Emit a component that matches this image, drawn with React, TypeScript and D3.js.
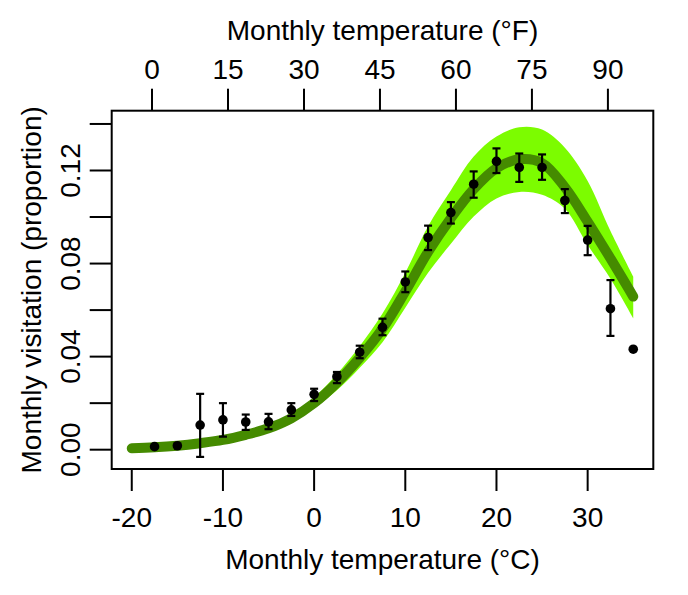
import * as d3 from 'd3';

// observed monthly visitation, binned by monthly temperature (°C)
const tempC = [-17.5, -15, -12.5, -10, -7.5, -5, -2.5, 0, 2.5, 5, 7.5, 10, 12.5, 15, 17.5, 20, 22.5, 25, 27.5, 30, 32.5, 35];
const visitation = [0.0013, 0.0017, 0.0106, 0.0128, 0.0119, 0.012, 0.0171, 0.0238, 0.0314, 0.0419, 0.0526, 0.0721, 0.0912, 0.1019, 0.1141, 0.1239, 0.1213, 0.1213, 0.1071, 0.0901, 0.0606, 0.0432];
const visitLow = [0.0013, 0.0017, -0.0031, 0.0056, 0.0085, 0.0088, 0.0145, 0.0209, 0.0286, 0.0393, 0.0492, 0.0677, 0.0858, 0.0972, 0.1083, 0.1189, 0.1151, 0.116, 0.1017, 0.0836, 0.0489, 0.0432];
const visitHigh = [0.0013, 0.0017, 0.024, 0.02, 0.0151, 0.0154, 0.02, 0.0262, 0.0334, 0.0447, 0.0563, 0.0766, 0.0963, 0.1064, 0.1196, 0.1295, 0.1273, 0.1269, 0.112, 0.0962, 0.0729, 0.0432];

// fitted curve and its confidence band
const fitTempC = [-20, -17.5, -15, -12.5, -10, -7.5, -5, -2.5, 0, 2.5, 5, 7.5, 10, 12.5, 15, 17.5, 20, 22.5, 25, 27.5, 30, 32.5, 35];
const fitMid = [0.0006, 0.001, 0.0017, 0.0028, 0.0042, 0.0064, 0.0092, 0.0135, 0.02, 0.0288, 0.0395, 0.052, 0.068, 0.085, 0.0995, 0.112, 0.121, 0.1248, 0.1232, 0.1128, 0.098, 0.0822, 0.0658];
const fitLow = [0.0005, 0.0009, 0.0015, 0.0025, 0.0037, 0.0057, 0.0081, 0.0119, 0.0178, 0.0255, 0.0352, 0.0462, 0.061, 0.076, 0.0885, 0.1002, 0.108, 0.1108, 0.1096, 0.1036, 0.088, 0.0735, 0.0565];
const fitHigh = [0.0007, 0.0011, 0.0019, 0.0031, 0.0047, 0.0072, 0.0104, 0.0153, 0.0224, 0.0325, 0.0445, 0.0585, 0.076, 0.096, 0.1115, 0.126, 0.1346, 0.1386, 0.1376, 0.1298, 0.1155, 0.094, 0.0744];

const celsiusTicks = [-20, -10, 0, 10, 20, 30];
const fahrenheitTicks = [0, 15, 30, 45, 60, 75, 90];
const yTicks = [0, 0.02, 0.04, 0.06, 0.08, 0.1, 0.12, 0.14];
const yLabelTicks = [0, 0.04, 0.08, 0.12];

const W = 688;
const H = 595;
const left = 111.7;
const right = 653.3;
const top = 110.7;
const bottom = 469;
const tick = 22;
const font = 'Arial, "Liberation Sans", sans-serif';
const fs = 28;

const App = () => {
  const x = d3.scaleLinear().domain([-22.2, 37.2]).range([left, right]);
  const y = d3.scaleLinear().domain([-0.0083, 0.1457]).range([bottom, top]);
  const toC = (f: number) => ((f - 32) * 5) / 9;

  const fit = fitTempC.map((t, i) => ({ t, mid: fitMid[i], lo: fitLow[i], hi: fitHigh[i] }));
  const band = d3
    .area<(typeof fit)[number]>()
    .x((d) => x(d.t))
    .y0((d) => y(d.lo))
    .y1((d) => y(d.hi))
    .curve(d3.curveCatmullRom.alpha(0.5));
  const line = d3
    .line<(typeof fit)[number]>()
    .x((d) => x(d.t))
    .y((d) => y(d.mid))
    .curve(d3.curveCatmullRom.alpha(0.5));

  const cx = (left + right) / 2;
  const cy = (top + bottom) / 2;

  return (
    <svg
      width={W}
      height={H}
      style={{ position: 'absolute', left: 0, top: 0, background: '#fff' }}
      fontFamily={font}
      fontSize={fs}
    >
      <path d={band(fit) ?? ''} fill="#7CFC00" />
      <path d={line(fit) ?? ''} fill="none" stroke="#458B00" strokeWidth={10} strokeLinecap="round" />

      {/* error bars */}
      {tempC.map((t, i) =>
        visitHigh[i] - visitLow[i] > 0.0005 ? (
          <g key={'e' + i} stroke="#000" strokeWidth={2.2}>
            <line x1={x(t)} x2={x(t)} y1={y(visitLow[i])} y2={y(visitHigh[i])} />
            <line x1={x(t) - 4} x2={x(t) + 4} y1={y(visitLow[i])} y2={y(visitLow[i])} />
            <line x1={x(t) - 4} x2={x(t) + 4} y1={y(visitHigh[i])} y2={y(visitHigh[i])} />
          </g>
        ) : null
      )}
      {tempC.map((t, i) => (
        <circle key={'p' + i} cx={x(t)} cy={y(visitation[i])} r={4.8} fill="#000" />
      ))}

      {/* frame */}
      <rect x={left} y={top} width={right - left} height={bottom - top} fill="none" stroke="#000" strokeWidth={2} />

      {/* bottom axis, °C */}
      {celsiusTicks.map((t) => (
        <g key={'c' + t}>
          <line x1={x(t)} x2={x(t)} y1={bottom} y2={bottom + tick} stroke="#000" strokeWidth={2} />
          <text x={x(t)} y={527} textAnchor="middle">
            {t}
          </text>
        </g>
      ))}
      <text x={cx} y={569} textAnchor="middle">
        Monthly temperature (°C)
      </text>

      {/* top axis, °F */}
      {fahrenheitTicks.map((f) => (
        <g key={'f' + f}>
          <line x1={x(toC(f))} x2={x(toC(f))} y1={top} y2={top - tick} stroke="#000" strokeWidth={2} />
          <text x={x(toC(f))} y={79} textAnchor="middle">
            {f}
          </text>
        </g>
      ))}
      <text x={cx} y={40} textAnchor="middle">
        Monthly temperature (°F)
      </text>

      {/* left axis */}
      {yTicks.map((v) => (
        <line key={'y' + v} x1={left} x2={left - tick} y1={y(v)} y2={y(v)} stroke="#000" strokeWidth={2} />
      ))}
      {yLabelTicks.map((v) => (
        <text key={'yl' + v} transform={`translate(80,${y(v)}) rotate(-90)`} textAnchor="middle">
          {v.toFixed(2)}
        </text>
      ))}
      <text transform={`translate(41,${cy}) rotate(-90)`} textAnchor="middle">
        Monthly visitation (proportion)
      </text>
    </svg>
  );
};

export default App;
